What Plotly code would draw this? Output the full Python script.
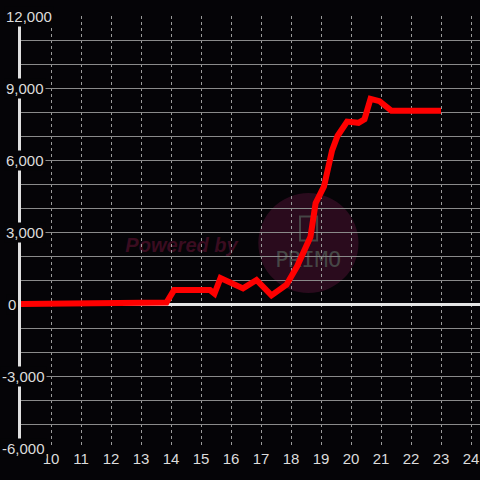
import plotly.graph_objects as go

# ------------------------------------------------------------
# Données (heure -> valeur)
# ------------------------------------------------------------
heures = [9.0, 13.7, 13.85, 14.1, 15.3, 15.45, 15.65, 16.4, 16.85, 17.35,
          17.85, 18.2, 18.65, 18.82, 19.1, 19.37, 19.55, 19.87, 20.25,
          20.45, 20.65, 20.95, 21.35, 23.0]
valeurs = [0, 0, 60, 580, 580, 430, 1080, 650, 1000, 360,
           800, 1560, 2800, 4200, 4900, 6400, 7000, 7600, 7550,
           7700, 8550, 8450, 8050, 8050]

x_ticks = list(range(10, 25))
y_labels = [12000, 9000, 6000, 3000, 0, -3000, -6000]

BG = "#050407"
FONT = "Liberation Sans, Arial, sans-serif"

fig = go.Figure()

fig.add_trace(go.Scatter(
    x=heures,
    y=valeurs,
    mode="lines",
    line=dict(color="#ff0000", width=6),
    hoverinfo="skip",
    showlegend=False,
))

fig.update_layout(
    width=480,
    height=480,
    paper_bgcolor=BG,
    plot_bgcolor=BG,
    margin=dict(l=21, r=0, t=16, b=32),
    font=dict(family=FONT, size=15, color="#dcdcdc"),
    xaxis=dict(
        range=[9.0, 24.3],
        tickvals=x_ticks,
        showgrid=True,
        gridcolor="#9a9a9a",
        gridwidth=1,
        griddash="3px,3px",
        zeroline=False,
        showline=False,
        ticks="",
        tickfont=dict(size=15, color="#dcdcdc"),
        fixedrange=True,
    ),
    yaxis=dict(
        range=[-6000, 12000],
        dtick=1000,
        showgrid=True,
        gridcolor="#8a8a8a",
        gridwidth=1,
        showticklabels=False,
        zeroline=True,
        zerolinecolor="#e6e6e6",
        zerolinewidth=3,
        showline=True,
        linecolor="#e0e0e0",
        linewidth=3,
        ticks="",
        fixedrange=True,
    ),
)

# filigrane "Powered by PRIMO" (sous la grille)
fig.add_shape(type="circle", xref="x", yref="y",
              x0=16.91, x1=20.25, y0=460, y1=4620,
              fillcolor="#2a0b1d", line_width=0, layer="below")
fig.add_shape(type="rect", xref="x", yref="y",
              x0=18.3, x1=18.87, y0=2650, y1=3650,
              line=dict(color="#454545", width=2), layer="below")
fig.add_shape(type="rect", xref="x", yref="y",
              x0=17.3, x1=19.85, y0=1500, y1=2350,
              line_width=0, fillcolor="rgba(0,0,0,0)", layer="below",
              label=dict(text="PRIMO", textposition="middle center",
                         font=dict(family="DejaVu Sans Mono", size=22, color="#464646")))
fig.add_shape(type="rect", xref="x", yref="y",
              x0=12.0, x1=16.7, y0=2100, y1=3000,
              line_width=0, fillcolor="rgba(0,0,0,0)", layer="below",
              label=dict(text="<b><i>Powered by</i></b>", textposition="middle center",
                         font=dict(family=FONT, size=20, color="#3a0c20")))

# étiquettes de l'axe Y (fond noir qui coupe l'axe)
for v in y_labels:
    fig.add_annotation(
        x=0, y=v, xref="paper", yref="y",
        text=f"{v:,}",
        showarrow=False,
        xanchor="left", yanchor="middle",
        xshift=-17 if v > 0 else (-15 if v == 0 else -21),
        bgcolor=BG, borderpad=1,
        font=dict(family=FONT, size=15, color="#dcdcdc"),
    )

# page sans marge pour que la figure occupe exactement la fenêtre
fig.write_html(
    "out.html",
    config={"displayModeBar": False, "staticPlot": True},
    post_script="document.body.style.margin='0';document.body.style.background='%s';" % BG,
)
